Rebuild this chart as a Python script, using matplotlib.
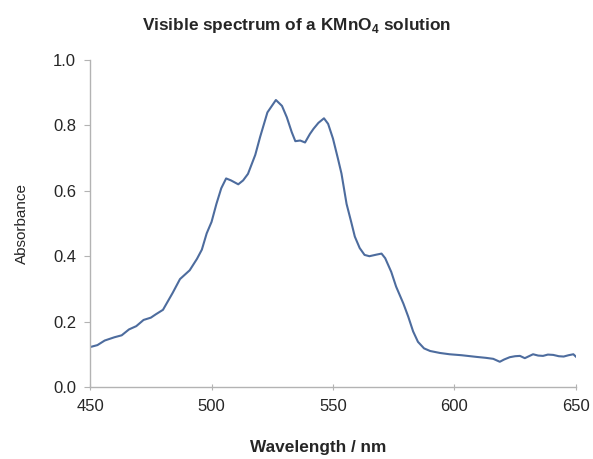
import matplotlib
matplotlib.use("Agg")
import matplotlib.pyplot as plt

# wavelength (nm) and absorbance
wavelength = [450, 453, 456, 458, 460, 463, 466, 469, 472, 475, 477, 480,
              482, 484, 487, 491, 494, 496, 498, 500, 502, 504, 506, 508,
              511, 513, 515, 518, 520, 523, 526.5, 529, 531, 533, 534.5,
              536.5, 538.5, 540.5, 542, 544, 546.3, 548, 550, 552, 553.5,
              555.6, 557.5, 559, 561, 563, 565, 568, 570, 571.5, 574, 576,
              579, 581, 583, 585, 587.5, 590, 594, 598, 603, 609, 613, 616,
              618.7, 620.5, 622.8, 625, 627, 629, 632.4, 634.5, 636.5, 638.5,
              640.7, 643, 645, 647, 649, 650]
absorbance = [0.122, 0.128, 0.142, 0.147, 0.152, 0.158, 0.176, 0.186, 0.205,
              0.212, 0.222, 0.236, 0.262, 0.288, 0.330, 0.357, 0.392, 0.420,
              0.470, 0.505, 0.560, 0.608, 0.638, 0.632, 0.620, 0.632, 0.652,
              0.710, 0.765, 0.840, 0.878, 0.860, 0.825, 0.780, 0.752, 0.754,
              0.748, 0.774, 0.790, 0.808, 0.822, 0.805, 0.760, 0.700, 0.653,
              0.560, 0.505, 0.460, 0.425, 0.404, 0.400, 0.405, 0.408, 0.394,
              0.352, 0.307, 0.255, 0.215, 0.170, 0.138, 0.118, 0.110, 0.104,
              0.100, 0.097, 0.092, 0.089, 0.086, 0.077, 0.084, 0.091, 0.094,
              0.095, 0.088, 0.100, 0.096, 0.095, 0.099, 0.098, 0.094, 0.093,
              0.097, 0.100, 0.093]

x_ticks = [450, 500, 550, 600, 650]
y_ticks = [0.0, 0.2, 0.4, 0.6, 0.8, 1.0]

plt.rcParams['font.family'] = ['Liberation Sans', 'DejaVu Sans']
text_color = '#262626'
axis_color = '#b3b3b3'

fig = plt.figure(figsize=(5.93, 4.59), dpi=100)
ax = fig.add_axes([0.152, 0.157, 0.819, 0.712])

ax.plot(wavelength, absorbance, color='#4d6c9e', lw=1.5)

ax.set_xlim(450, 650)
ax.set_ylim(0, 1.0)
ax.set_xticks(x_ticks)
ax.set_yticks(y_ticks)
ax.set_yticklabels([f"{v:.1f}" for v in y_ticks])

for side in ['top', 'right']:
    ax.spines[side].set_visible(False)
for side in ['left', 'bottom']:
    ax.spines[side].set_color(axis_color)
    ax.spines[side].set_linewidth(1.0)

ax.tick_params(axis='x', direction='inout', length=5, color=axis_color,
               labelsize=12, labelcolor=text_color, pad=6)
ax.tick_params(axis='y', direction='out', length=4, color=axis_color,
               labelsize=12, labelcolor=text_color, pad=6)

ax.set_xlabel('Wavelength / nm', fontsize=12.4, fontweight='bold',
              color=text_color)
ax.xaxis.set_label_coords(0.47, -0.163)
ax.set_ylabel('Absorbance', fontsize=11, color=text_color)
ax.yaxis.set_label_coords(-0.125, 0.5)

fig.text(0.5, 0.945, r'Visible spectrum of a KMnO$_\mathregular{4}$ solution',
         ha='center', va='center', fontsize=12.4, fontweight='bold',
         color=text_color)

fig.savefig('out.png', dpi=100)
